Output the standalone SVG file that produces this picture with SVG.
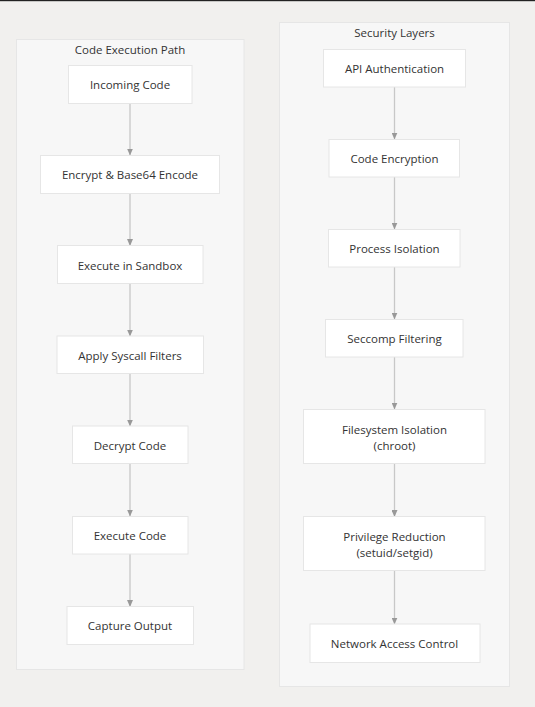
<svg xmlns="http://www.w3.org/2000/svg" width="535" height="707" viewBox="0 0 535 707">
<style>
.cl{fill:#f7f7f7;stroke:#e6e6e6;stroke-width:1}
.nd{fill:#ffffff;stroke:#e6e6e6;stroke-width:1}
text{font-family:"Open Sans","Noto Sans","DejaVu Sans",sans-serif;font-size:11.5px;fill:#333;text-anchor:middle;dominant-baseline:central}
.ed{stroke:#c8c8c8;stroke-width:1.3;fill:none;marker-end:url(#ah)}
</style>
<defs>
<marker id="ah" markerWidth="7" markerHeight="6" refX="6.5" refY="3" orient="auto" markerUnits="userSpaceOnUse">
<path d="M0,0 L7,3 L0,6 Z" fill="#999"/>
</marker>
</defs>
<rect x="0" y="0" width="535" height="707" fill="#f1f0ee"/>
<rect x="0" y="0" width="535" height="1.2" fill="#222"/>
<g id="cluster-exec">
<rect class="cl" x="16.5" y="39.5" width="227.5" height="630"/>
<text x="130" y="49.5">Code Execution Path</text>
</g>
<g id="cluster-sec">
<rect class="cl" x="279.5" y="22.5" width="230" height="664"/>
<text x="394.5" y="32.5">Security Layers</text>
</g>
<g id="connectors">
<line class="ed" x1="130" y1="103.5" x2="130" y2="155"/>
<line class="ed" x1="130" y1="193.5" x2="130" y2="245.5"/>
<line class="ed" x1="130" y1="283.5" x2="130" y2="336"/>
<line class="ed" x1="130" y1="373.5" x2="130" y2="426"/>
<line class="ed" x1="130" y1="463.5" x2="130" y2="516"/>
<line class="ed" x1="130" y1="554" x2="130" y2="606.5"/>
<line class="ed" x1="394.5" y1="87" x2="394.5" y2="139"/>
<line class="ed" x1="394.5" y1="177" x2="394.5" y2="229"/>
<line class="ed" x1="394.5" y1="267" x2="394.5" y2="319"/>
<line class="ed" x1="394.5" y1="357" x2="394.5" y2="409"/>
<line class="ed" x1="394.5" y1="464" x2="394.5" y2="516.5"/>
<line class="ed" x1="394.5" y1="571" x2="394.5" y2="624"/>
</g>
<g id="n-incoming"><rect class="nd" x="68.5" y="65.5" width="123.5" height="38"/><text x="130" y="84.5">Incoming Code</text></g>
<g id="n-encrypt"><rect class="nd" x="40.5" y="155.5" width="179" height="38"/><text x="130" y="174.5">Encrypt &amp; Base64 Encode</text></g>
<g id="n-sandbox"><rect class="nd" x="57.5" y="245.5" width="145.5" height="38"/><text x="130" y="265">Execute in Sandbox</text></g>
<g id="n-syscall"><rect class="nd" x="57" y="336" width="146.5" height="37.5"/><text x="130" y="355">Apply Syscall Filters</text></g>
<g id="n-decrypt"><rect class="nd" x="72.5" y="426" width="115.5" height="37.5"/><text x="130" y="445">Decrypt Code</text></g>
<g id="n-execute"><rect class="nd" x="72.5" y="516.5" width="115.5" height="37.5"/><text x="130" y="535.5">Execute Code</text></g>
<g id="n-capture"><rect class="nd" x="67" y="606.5" width="126.5" height="38"/><text x="130" y="625.5">Capture Output</text></g>
<g id="n-api"><rect class="nd" x="323.5" y="49.5" width="142" height="37.5"/><text x="394.5" y="68.5">API Authentication</text></g>
<g id="n-codeenc"><rect class="nd" x="329" y="139.5" width="130.5" height="37.5"/><text x="394.5" y="158.5">Code Encryption</text></g>
<g id="n-process"><rect class="nd" x="328.5" y="229.5" width="131.5" height="37.5"/><text x="394.5" y="248.5">Process Isolation</text></g>
<g id="n-seccomp"><rect class="nd" x="325.5" y="319.5" width="137.5" height="37.5"/><text x="394.5" y="338.5">Seccomp Filtering</text></g>
<g id="n-fs"><rect class="nd" x="303.5" y="409.5" width="181.5" height="54"/><text x="394.5" y="429">Filesystem Isolation</text><text x="394.5" y="445">(chroot)</text></g>
<g id="n-priv"><rect class="nd" x="303.5" y="516.5" width="181.5" height="54"/><text x="394.5" y="536.3">Privilege Reduction</text><text x="394.5" y="552.3">(setuid/setgid)</text></g>
<g id="n-net"><rect class="nd" x="310" y="624" width="170" height="38.5"/><text x="394.5" y="643">Network Access Control</text></g>
</svg>
